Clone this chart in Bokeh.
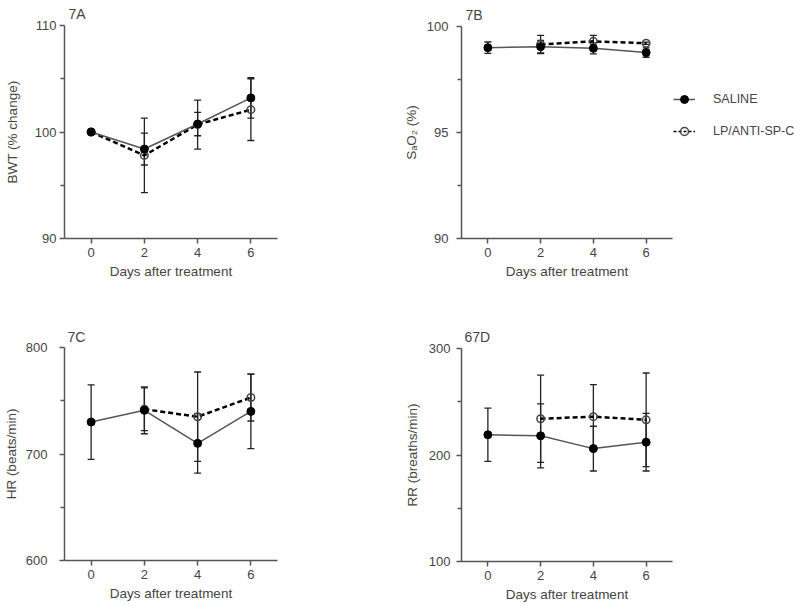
import numpy as np
from bokeh.plotting import figure
from bokeh.models import (ColumnDataSource, Whisker, TeeHead, FixedTicker,
                          Range1d, Legend, LegendItem)
from bokeh.layouts import row, column
from bokeh.embed import file_html
from bokeh.resources import INLINE

# ---------------- data ----------------
days = [0, 2, 4, 6]
lp_days_a = [0, 2, 4, 6]
lp_days = [2, 4, 6]

bwt_saline = [100.0, 98.4, 100.75, 103.2]
bwt_saline_sd = [0.0, 1.5, 1.1, 1.9]
bwt_lp = [100.0, 97.8, 100.7, 102.1]
bwt_lp_sd = [0.0, 3.5, 2.3, 2.9]

sao2_saline = [99.0, 99.05, 98.97, 98.77]
sao2_saline_sd = [0.27, 0.3, 0.26, 0.22]
sao2_lp = [99.15, 99.3, 99.21]
sao2_lp_sd = [0.43, 0.28, 0.05]

hr_saline = [730, 741, 710, 740]
hr_saline_sd = [35, 22, 28, 35]
hr_lp = [742, 735, 753]
hr_lp_sd = [20, 42, 22]

rr_saline = [219, 218, 206, 212]
rr_saline_sd = [25, 30, 21, 27]
rr_lp = [234, 236, 233]
rr_lp_sd = [41, 30, 44]

x_ticks = [0, 2, 4, 6]
x_limits = (-1, 7)

TEXT = "#444444"
AXIS = "#555555"
FONT = "Liberation Sans"


def whisker(p, xs, ys, sds):
    pts = [(x, y, s) for x, y, s in zip(xs, ys, sds) if s > 0]
    src = ColumnDataSource(dict(
        base=[a for a, _, _ in pts],
        upper=[b + c for _, b, c in pts],
        lower=[b - c for _, b, c in pts]))
    w = Whisker(base="base", upper="upper", lower="lower", source=src,
                dimension="height", line_color="#222222", line_width=1.3,
                upper_head=TeeHead(size=7, line_color="#222222", line_width=1.3),
                lower_head=TeeHead(size=7, line_color="#222222", line_width=1.3))
    p.add_layout(w)


def panel(title, ylabel, ylim, yticks, yminor, s_x, s_y, s_sd, l_x, l_y, l_sd,
          width, height, bl, br, bt, bb, title_offset, title_standoff,
          lab_standoff, axlab_standoff):
    p = figure(width=width, height=height, x_range=Range1d(*x_limits),
               y_range=Range1d(*ylim), output_backend="svg", toolbar_location=None,
               min_border_left=bl, min_border_right=br, min_border_top=bt,
               min_border_bottom=bb)
    p.outline_line_color = None
    p.xgrid.visible = False
    p.ygrid.visible = False
    p.background_fill_color = "white"

    p.title.text = title
    p.title.align = "left"
    p.title.offset = title_offset
    p.title.standoff = title_standoff
    p.title.text_font = FONT
    p.title.text_font_size = "14px"
    p.title.text_font_style = "normal"
    p.title.text_color = TEXT

    p.xaxis.ticker = FixedTicker(ticks=x_ticks)
    p.xaxis.axis_label = "Days after treatment"
    p.yaxis.ticker = FixedTicker(ticks=yticks, minor_ticks=yminor)
    p.yaxis.axis_label = ylabel
    p.xaxis.minor_tick_line_color = None
    p.xaxis.major_label_standoff = 4
    p.xaxis.axis_label_standoff = 4
    p.yaxis.major_label_standoff = lab_standoff
    p.yaxis.axis_label_standoff = axlab_standoff
    for ax in (p.xaxis, p.yaxis):
        ax.axis_line_color = AXIS
        ax.axis_line_width = 1.5
        ax.major_tick_line_color = AXIS
        ax.major_tick_line_width = 1.5
        ax.minor_tick_line_width = 1.5
        ax.major_tick_out = 5
        ax.major_tick_in = 0
        ax.minor_tick_out = 4
        ax.minor_tick_in = 0
        ax.major_label_text_font = FONT
        ax.major_label_text_font_size = "13px"
        ax.major_label_text_color = TEXT
        ax.axis_label_text_font = FONT
        ax.axis_label_text_font_size = "13.5px"
        ax.axis_label_text_font_style = "normal"
        ax.axis_label_text_color = TEXT
    p.yaxis.minor_tick_line_color = AXIS

    whisker(p, s_x, s_y, s_sd)
    whisker(p, l_x, l_y, l_sd)
    p.line(l_x, l_y, line_color="black", line_width=2.5, line_dash="5 3")
    p.line(s_x, s_y, line_color="#555555", line_width=1.5)
    p.scatter(l_x, l_y, marker="circle", size=7.5, fill_color=None,
              line_color="#444444", line_width=1.5)
    p.scatter(s_x, s_y, marker="circle", size=8, fill_color="black",
              line_color="black")
    return p


pA = panel("7A", "BWT (% change)", (90, 110), [90, 100, 110], [95, 105],
           days, bwt_saline, bwt_saline_sd, lp_days_a, bwt_lp, bwt_lp_sd,
           300, 288, 61, 23, 25, 50, 4, 7, 3, 12)
pB = panel("7B", "S\u2090O\u2082 (%)", (90, 100), [90, 95, 100], [92.5, 97.5],
           days, sao2_saline, sao2_saline_sd, lp_days, sao2_lp, sao2_lp_sd,
           373, 288, 161, 1, 26, 50, 4, 8, 8, 5)
pC = panel("7C", "HR (beats/min)", (600, 800), [600, 700, 800], [650, 750],
           days, hr_saline, hr_saline_sd, lp_days, hr_lp, hr_lp_sd,
           300, 316, 62, 23, 59, 44, 3, 5, 12, 4)
pD = panel("67D", "RR (breaths/min)", (100, 300), [100, 200, 300], [150, 250],
           days, rr_saline, rr_saline_sd, lp_days, rr_lp, rr_lp_sd,
           373, 316, 159, 0, 60, 43, 3, 8, 6, 6)

# ---------------- legend ----------------
pl = figure(width=124, height=200, x_range=Range1d(0, 1), y_range=Range1d(0, 1),
            x_axis_location=None, y_axis_location=None, toolbar_location=None,
            output_backend="svg", min_border_left=0, min_border_top=89,
            min_border_right=0, min_border_bottom=0)
pl.outline_line_color = None
pl.grid.visible = False
nan_src = dict(x=np.array([np.nan]), y=np.array([np.nan]))
r1 = pl.line(x="x", y="y", source=ColumnDataSource(nan_src), line_color="#555555", line_width=1.5)
r2 = pl.scatter(x="x", y="y", source=ColumnDataSource(nan_src), marker="circle",
                size=8, fill_color="black", line_color="black")
r3 = pl.line(x="x", y="y", source=ColumnDataSource(nan_src), line_color="black",
             line_width=1.5, line_dash="3 2")
r4 = pl.scatter(x="x", y="y", source=ColumnDataSource(nan_src), marker="circle",
                size=7, fill_color=None, line_color="#444444", line_width=1.5)
legend = Legend(items=[LegendItem(label="SALINE", renderers=[r1, r2]),
                       LegendItem(label="LP/ANTI-SP-C", renderers=[r3, r4])],
                location="top_left", margin=0, padding=0, spacing=12,
                glyph_width=22, glyph_height=20, label_height=20,
                label_standoff=18, border_line_color=None,
                background_fill_alpha=0, label_text_font=FONT,
                label_text_font_size="12.5px", label_text_color=TEXT)
pl.add_layout(legend)

layout = row(column(pA, pC), column(pB, pD), pl)

with open("out.html", "w") as f:
    f.write(file_html(layout, INLINE))
